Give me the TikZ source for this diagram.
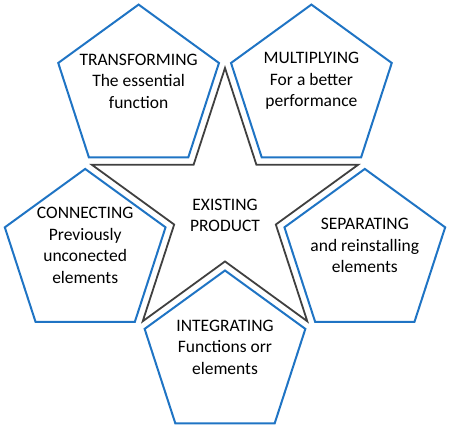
\documentclass[tikz,border=0pt]{standalone}
\usepackage{fontspec}
\setmainfont{Carlito}
\usetikzlibrary{shapes.geometric}
\definecolor{pentblue}{HTML}{1F74C4}
\definecolor{stargray}{HTML}{404040}

\begin{document}
\begin{tikzpicture}[x=1bp, y=1bp,
    pent/.style={regular polygon, regular polygon sides=5, minimum size=169bp,
        inner sep=0pt, draw=pentblue, line width=2bp},
    pentext/.style={align=center, font=\fontsize{17.5bp}{21.5bp}\selectfont}]
    \useasboundingbox (-225,-222) rectangle (227,208);
    \node[star, star points=5, star point ratio=2.62, minimum size=280bp,
        inner sep=0pt, draw=stargray, line width=1.8bp] (prod) at (0,0) {};
    \node[pentext] (prodtxt) at ([yshift=-7.5bp]prod.center) {EXISTING\\PRODUCT};
    % pentagons in the notches of the star
    \node[pent] (trans) at (126:147) {};
    \node[pent] (mult) at (54:147) {};
    \node[pent] (conn) at (198:147) {};
    \node[pent] (sep) at (342:147) {};
    \node[pent] (integ) at (270:147) {};
    \node[pentext] (transtxt) at ([yshift=8bp]trans.center) {TRANSFORMING\\The essential\\function};
    \node[pentext] (multtxt) at ([yshift=8bp]mult.center) {MULTIPLYING\\For a better\\performance};
    \node[pentext] (conntxt) at ([yshift=8bp]conn.center) {CONNECTING\\Previously\\unconected\\elements};
    \node[pentext] (septxt) at ([yshift=8bp]sep.center) {SEPARATING\\and reinstalling\\elements};
    \node[pentext] (integtxt) at ([yshift=8bp]integ.center) {INTEGRATING\\Functions orr\\elements};
\end{tikzpicture}
\end{document}
